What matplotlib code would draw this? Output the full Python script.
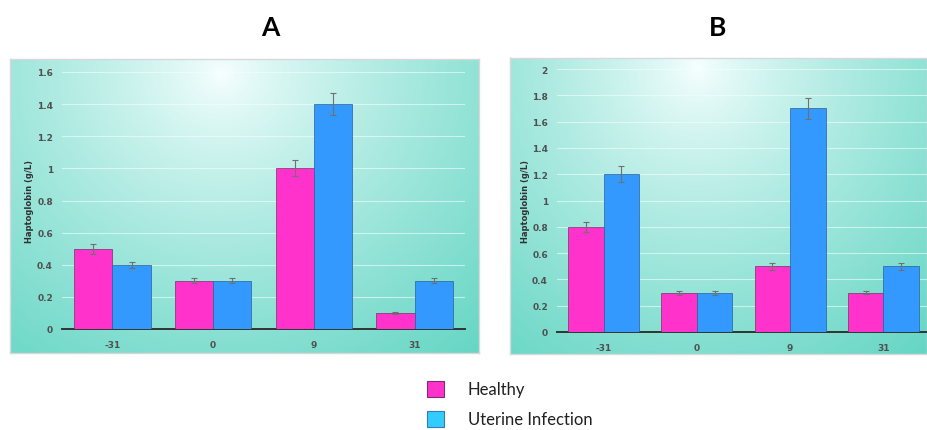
import numpy as np
import matplotlib.pyplot as plt
from matplotlib.patches import Rectangle

days = ['-31', '0', '9', '31']

# panel A
healthy_a = [0.5, 0.3, 1.0, 0.1]
healthy_a_err = [0.03, 0.015, 0.05, 0.005]
infected_a = [0.4, 0.3, 1.4, 0.3]
infected_a_err = [0.02, 0.015, 0.07, 0.015]
yticks_a = [0, 0.2, 0.4, 0.6, 0.8, 1.0, 1.2, 1.4, 1.6]

# panel B
healthy_b = [0.8, 0.3, 0.5, 0.3]
healthy_b_err = [0.04, 0.015, 0.025, 0.012]
infected_b = [1.2, 0.3, 1.7, 0.5]
infected_b_err = [0.06, 0.015, 0.08, 0.025]
yticks_b = [0, 0.2, 0.4, 0.6, 0.8, 1.0, 1.2, 1.4, 1.6, 1.8, 2.0]

MAGENTA = '#FF33CC'
BLUE = '#3399FF'
LEGEND_BLUE = '#33CCFF'
TEAL = np.array([0.40, 0.84, 0.77])


def gradient_panel(fig, rect, cx, cy):
    ax = fig.add_axes(rect)
    ny, nx = 200, 300
    yy, xx = np.mgrid[0:1:ny * 1j, 0:1:nx * 1j]
    d = np.sqrt(((xx - cx) / 0.85) ** 2 + ((yy - cy) / 1.25) ** 2)
    t = np.clip(d, 0, 1) ** 0.8
    img = (1 - t)[..., None] * np.array([0.97, 1.0, 1.0]) + t[..., None] * TEAL
    ax.imshow(img, extent=(0, 1, 1, 0), aspect='auto', interpolation='bilinear')
    ax.set_xlim(0, 1)
    ax.set_ylim(1, 0)
    ax.set_xticks([])
    ax.set_yticks([])
    for s in ax.spines.values():
        s.set_color('#D8D8D8')
        s.set_linewidth(1.0)
    return ax


def bar_panel(fig, rect, healthy, h_err, infected, i_err, yticks, label_x):
    ax = fig.add_axes(rect)
    ax.patch.set_alpha(0)
    x = np.arange(len(days))
    w = 0.38
    err_kw = dict(ecolor='#707070', elinewidth=0.8, capsize=2.5, capthick=0.8)
    ax.bar(x - w / 2, healthy, w, yerr=h_err, color=MAGENTA,
           edgecolor='#7A3060', linewidth=0.5, error_kw=err_kw, zorder=3)
    ax.bar(x + w / 2, infected, w, yerr=i_err, color=BLUE,
           edgecolor='#2E5E99', linewidth=0.5, error_kw=err_kw, zorder=3)
    ax.set_xlim(-0.5, len(days) - 0.5)
    ax.set_ylim(0, yticks[-1])
    ax.set_yticks(yticks)
    ax.set_yticklabels(['%g' % v for v in yticks])
    ax.set_xticks(x)
    ax.set_xticklabels(days)
    ax.grid(axis='y', color='#F4FFFD', linewidth=0.8, alpha=0.6, zorder=0)
    ax.set_axisbelow(True)
    for s in ['top', 'right', 'left']:
        ax.spines[s].set_visible(False)
    ax.spines['bottom'].set_color('#333333')
    ax.spines['bottom'].set_linewidth(1.4)
    ax.tick_params(axis='x', length=0, labelsize=6.5, colors='#505050', pad=8)
    ax.tick_params(axis='y', length=0, labelsize=6.5, colors='#505050', pad=6.5)
    for lab in ax.get_xticklabels() + ax.get_yticklabels():
        lab.set_fontweight('bold')
    ax.set_ylabel('Haptoglobin (g/L)', fontsize=6, fontweight='bold',
                  color='#303030')
    ax.yaxis.set_label_coords(label_x, 0.5)
    return ax


fig = plt.figure(figsize=(9.28, 4.31), dpi=100)
W, H = 928, 431


def frac(x0, y0, x1, y1):
    return [x0 / W, 1 - y1 / H, (x1 - x0) / W, (y1 - y0) / H]


gradient_panel(fig, frac(10, 60, 479, 354), 0.45, 0.05)
gradient_panel(fig, frac(510, 59, 927, 355), 0.45, 0.03)

bar_panel(fig, frac(62, 73, 465, 330), healthy_a, healthy_a_err,
          infected_a, infected_a_err, yticks_a, (34 - 62) / 403)
bar_panel(fig, frac(557, 70, 930, 333), healthy_b, healthy_b_err,
          infected_b, infected_b_err, yticks_b, (530 - 557) / 373)

fig.text(270 / W, 1 - 28 / H, 'A', fontsize=19, fontweight='bold',
         family='Lato', ha='center', va='center')
fig.text(718 / W, 1 - 28 / H, 'B', fontsize=19, fontweight='bold',
         family='Lato', ha='center', va='center')

# legend drawn below the panels
legend_items = [('Healthy', MAGENTA, '#7A3070', 390),
                ('Uterine Infection', LEGEND_BLUE, '#3A7AB0', 420)]
for label, fc, ec, yc in legend_items:
    fig.patches.append(Rectangle((427 / W, 1 - (yc + 8) / H), 17 / W, 16 / H,
                                 transform=fig.transFigure, facecolor=fc,
                                 edgecolor=ec, linewidth=0.8))
    fig.text(468 / W, 1 - yc / H, label, fontsize=12, family='Lato',
             color='#202020', ha='left', va='center')

fig.savefig('out.png', dpi=100)
